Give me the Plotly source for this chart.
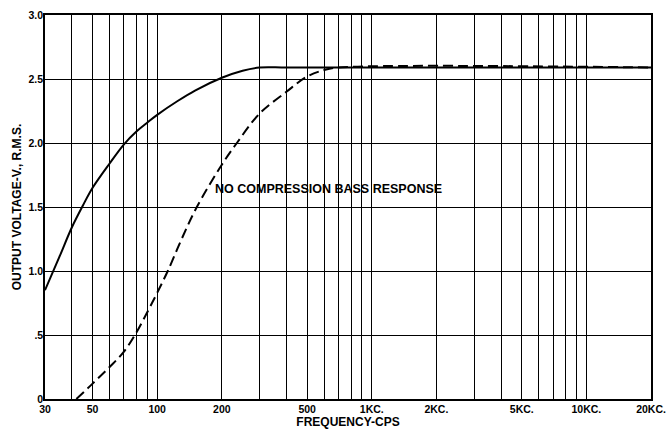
import math
import plotly.graph_objects as go

# Data
solid_freq = [30, 35, 40, 45, 50, 60, 70, 80, 90, 100, 125, 150, 200, 250, 300, 400, 1000, 20000]
solid_volt = [0.85, 1.11, 1.34, 1.51, 1.65, 1.84, 1.99, 2.09, 2.16, 2.22, 2.33, 2.41, 2.51, 2.565, 2.59, 2.59, 2.59, 2.59]

dash_freq = [42, 50, 60, 70, 80, 90, 100, 112, 130, 153, 200, 235, 300, 400, 500, 600, 700, 20000]
dash_volt = [0.0, 0.12, 0.25, 0.37, 0.52, 0.68, 0.83, 1.00, 1.25, 1.50, 1.83, 2.00, 2.23, 2.40, 2.52, 2.57, 2.59, 2.59]

grid_freqs = [30, 40, 50, 60, 70, 80, 90, 100, 200, 300, 400, 500, 600, 700, 800, 900,
              1000, 2000, 3000, 4000, 5000, 6000, 7000, 8000, 9000, 10000, 20000]
freq_labels = {30: "30", 50: "50", 100: "100", 200: "200", 500: "500", 1000: "1KC.",
               2000: "2KC.", 5000: "5KC.", 10000: "10KC.", 20000: "20KC."}

y_ticks = [0, 0.5, 1.0, 1.5, 2.0, 2.5, 3.0]
y_labels = ["0", ".5", "1.0", "1.5", "2.0", "2.5", "3.0"]

annotation_text = "NO COMPRESSION BASS RESPONSE"
annotation_freq = 182
annotation_volt = 1.64

FONT = "Liberation Sans, Arial"

fig = go.Figure()
fig.add_trace(go.Scatter(x=solid_freq, y=solid_volt, mode="lines",
                         line=dict(color="black", width=2, shape="spline", smoothing=1.0),
                         showlegend=False))
fig.add_trace(go.Scatter(x=dash_freq, y=dash_volt, mode="lines",
                         line=dict(color="black", width=2, dash="10px,5px", shape="spline", smoothing=1.0),
                         showlegend=False))

fig.add_annotation(x=math.log10(annotation_freq), y=annotation_volt, xref="x", yref="y",
                   text=annotation_text, showarrow=False, xanchor="left", yanchor="middle",
                   font=dict(family=FONT, size=12.5, color="black", weight="bold"))

fig.update_layout(
    width=670, height=432,
    margin=dict(l=45, r=19, t=15, b=33),
    paper_bgcolor="white", plot_bgcolor="white",
    font=dict(family=FONT, size=11, color="black"),
    xaxis=dict(type="log", range=[math.log10(30), math.log10(20000)],
               tickvals=grid_freqs,
               ticktext=[freq_labels.get(f, "") for f in grid_freqs],
               showgrid=True, gridcolor="black", gridwidth=1.3,
               showline=True, linecolor="black", linewidth=1.5, mirror=True,
               ticks="", zeroline=False, automargin=False,
               title=dict(text="FREQUENCY-CPS", standoff=0, font=dict(size=12, weight="bold")),
               tickfont=dict(size=10.5, weight="bold")),
    yaxis=dict(range=[0, 3.0], tickvals=y_ticks, ticktext=y_labels,
               showgrid=True, gridcolor="black", gridwidth=1.3,
               showline=True, linecolor="black", linewidth=1.5, mirror=True,
               ticks="", zeroline=False, automargin=False, ticklabelstandoff=-2,
               title=dict(text="OUTPUT VOLTAGE-V., R.M.S.", standoff=4, font=dict(size=12, weight="bold")),
               tickfont=dict(size=10.5, weight="bold")),
)

fig.write_html("out.html", config={"displayModeBar": False},
               post_script="document.body.style.margin='0';document.body.style.overflow='hidden';")
